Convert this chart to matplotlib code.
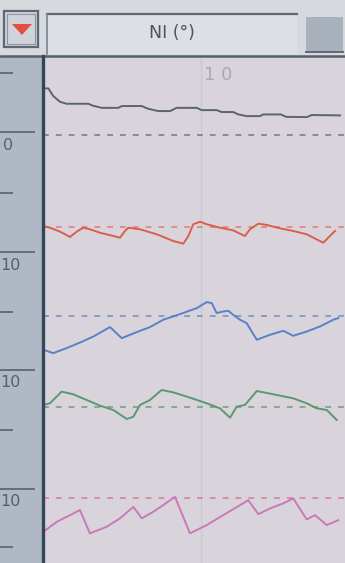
import matplotlib
matplotlib.use("Agg")
import matplotlib.pyplot as plt
from matplotlib.patches import Rectangle, Polygon
from matplotlib.lines import Line2D

W, H = 345, 563

# ---------------- data (time in s, deviation from channel baseline) -------------
title = "NI (°)"
grid_x = [10]
grid_label = "1 0"

ruler_major = [35.9, 25.9, 16.1, 6.2]
ruler_minor = [40.8, 30.8, 20.9, 11.1, 1.3]
ruler_labels = ["0", "10", "10", "10"]

channel_base = [35.7, 28.0, 20.6, 13.0, 5.45]

gray_t = [0.13, 0.34, 0.65, 1.08, 1.50, 2.87, 3.18, 3.72, 4.77, 4.98, 6.25, 6.66,
          7.30, 8.04, 8.46, 9.73, 10.04, 10.99, 11.31, 12.04, 12.36, 12.89, 13.73,
          13.94, 15.06, 15.38, 16.69, 17.01, 18.80]
gray_v = [3.85, 3.85, 3.21, 2.73, 2.57, 2.57, 2.40, 2.23, 2.23, 2.38, 2.38, 2.15,
          1.96, 1.96, 2.23, 2.23, 2.04, 2.04, 1.88, 1.88, 1.68, 1.54, 1.54,
          1.68, 1.68, 1.48, 1.46, 1.63, 1.60]

red_t = [0.02, 0.44, 1.08, 1.71, 2.13, 2.55, 2.97, 3.61, 4.03, 4.87, 5.19, 5.40,
         6.14, 7.20, 8.25, 8.88, 9.20, 9.51, 9.94, 10.36, 11.20, 12.04, 12.47, 12.78,
         13.10, 13.63, 14.16, 15.00, 15.84, 16.69, 17.32, 17.74, 18.16, 18.48]
red_v = [0.08, -0.06, -0.39, -0.83, -0.39, -0.06, -0.19, -0.48, -0.61, -0.89, -0.33, -0.06,
         -0.19, -0.61, -1.17, -1.39, -0.75, 0.23, 0.44, 0.23, -0.06, -0.28, -0.56, -0.75,
         -0.19, 0.28, 0.17, -0.11, -0.33, -0.61, -1.03, -1.31, -0.75, -0.33]

blue_t = [0.02, 0.65, 1.50, 2.34, 3.18, 4.24, 4.98, 5.93, 6.77, 7.61, 8.67, 9.73,
          10.36, 10.68, 10.99, 11.41, 11.73, 12.04, 12.47, 12.89, 13.53, 14.37, 15.21,
          15.84, 16.69, 17.53, 18.37, 18.69]
blue_v = [-2.83, -3.11, -2.69, -2.23, -1.73, -0.94, -1.86, -1.36, -0.94, -0.33, 0.14, 0.64,
          1.14, 1.06, 0.23, 0.36, 0.42, 0.08, -0.33, -0.61, -2.00, -1.58, -1.25,
          -1.67, -1.31, -0.89, -0.33, -0.19]

green_t = [0.02, 0.44, 1.18, 1.92, 2.77, 3.61, 4.45, 5.30, 5.72, 6.14, 6.77, 7.51,
           8.25, 9.30, 10.36, 11.20, 11.84, 12.26, 12.78, 13.53, 14.58, 15.84, 16.69,
           17.32, 17.96, 18.59]
green_v = [0.17, 0.31, 1.28, 1.06, 0.58, 0.11, -0.25, -1.00, -0.81, 0.17, 0.58, 1.42,
           1.22, 0.78, 0.31, -0.11, -0.89, 0.03, 0.17, 1.33, 1.06, 0.72, 0.31,
           -0.11, -0.25, -1.08]

mag_t = [0.02, 0.87, 1.71, 2.34, 2.97, 4.03, 4.87, 5.72, 6.25, 6.98, 7.61, 8.35,
         9.30, 10.36, 11.41, 12.47, 12.99, 13.63, 14.37, 15.21, 15.84, 16.69, 17.22,
         17.96, 18.69]
mag_v = [-2.85, -2.02, -1.46, -1.04, -2.98, -2.43, -1.73, -0.77, -1.73, -1.18, -0.63, 0.07,
         -2.98, -2.29, -1.46, -0.63, -0.21, -1.38, -0.90, -0.48, -0.07, -1.82, -1.46,
         -2.29, -1.88]

series = [
    (gray_t, gray_v, "#5a646e", "#6e7883"),
    (red_t, red_v, "#d95f4c", "#e07c72"),
    (blue_t, blue_v, "#5a80c8", "#6f8ebd"),
    (green_t, green_v, "#5c986e", "#6c9c7e"),
    (mag_t, mag_v, "#c97ab6", "#d67a9c"),
]

# ---------------- figure ----------------
fig = plt.figure(figsize=(W / 100, H / 100), dpi=100)
fig.patch.set_facecolor("#d4d7dd")


def frect(x0, y0, x1, y1, **kw):
    """rectangle in pixel coords measured from the top-left"""
    r = Rectangle((x0 / W, 1 - y1 / H), (x1 - x0) / W, (y1 - y0) / H,
                  transform=fig.transFigure, **kw)
    fig.add_artist(r)
    return r


def fline(xs, ys, **kw):
    fig.add_artist(Line2D([x / W for x in xs], [1 - y / H for y in ys],
                          transform=fig.transFigure, **kw))


# header
frect(0, 0, W, 56, facecolor="#d6d9de", edgecolor="none")
frect(4, 11, 38, 47, facecolor="#d0d4da", edgecolor="#5e6874", lw=1.6)
frect(7, 14, 35, 44, facecolor="none", edgecolor="#8a939e", lw=0.8)
fig.add_artist(Polygon([(12 / W, 1 - 24 / H), (32 / W, 1 - 24 / H), (22 / W, 1 - 35 / H)],
                       closed=True, transform=fig.transFigure,
                       facecolor="#e2503e", edgecolor="none"))
frect(47, 13, 297, 54, facecolor="#dcdfe3", edgecolor="none")
fline([47, 297], [13.5, 13.5], color="#5e6874", lw=1.6)
fline([47, 47], [13.5, 54], color="#7a838e", lw=1.2)
frect(306, 17, 343, 52, facecolor="#a9b1bd", edgecolor="none")
fline([306, 343], [52, 52], color="#5e6874", lw=1.4)
fig.text(172 / W, 1 - 33 / H, title, ha="center", va="center",
         fontsize=12.5, color="#4c545e")
fline([0, W], [55.5, 55.5], color="#56606c", lw=1.8)

# main plot
ax = fig.add_axes([43 / W, 0, (W - 43) / W, 506 / H])
ax.set_facecolor("#d9d4dc")
ax.set_xlim(0, 302 / 15.8)
ax.set_ylim(0, 506 / 12)
for s in ax.spines.values():
    s.set_visible(False)
ax.tick_params(left=False, bottom=False, labelleft=False, labelbottom=False)

for gx in grid_x:
    ax.axvline(gx, color="#c3cad6", lw=0.9, zorder=1)
ax.text(11.08, 40.7, grid_label, ha="center", va="center", fontsize=13,
        color="#a6abb4", zorder=2)

for (t, v, c, dc), base in zip(series, channel_base):
    ax.axhline(base, color=dc, lw=1.1, dashes=(3.8, 4.6), zorder=2)
    ax.plot(t, [base + d for d in v], color=c, lw=1.4, zorder=3,
            solid_joinstyle="round")

# left ruler
axl = fig.add_axes([0, 0, 42 / W, 506 / H], sharey=ax)
axl.set_facecolor("#b0b8c6")
axl.set_xlim(0, 42)
for s in axl.spines.values():
    s.set_visible(False)
axl.tick_params(left=False, bottom=False, labelleft=False, labelbottom=False)
axl.hlines(ruler_major, 0, 35, color="#4e5a68", lw=1.1)
axl.hlines(ruler_minor, 0, 13, color="#4e5a68", lw=1.1)
for i, (y, lab) in enumerate(zip(ruler_major, ruler_labels)):
    xr = 13 if i == 0 else 21
    axl.text(xr, y - 1.1, lab, ha="right", va="center", fontsize=11.5,
             color="#56606c")

fline([42.5, 42.5], [56, H], color="#33465a", lw=2.4)

fig.savefig("out.png", dpi=100, facecolor=fig.get_facecolor())
